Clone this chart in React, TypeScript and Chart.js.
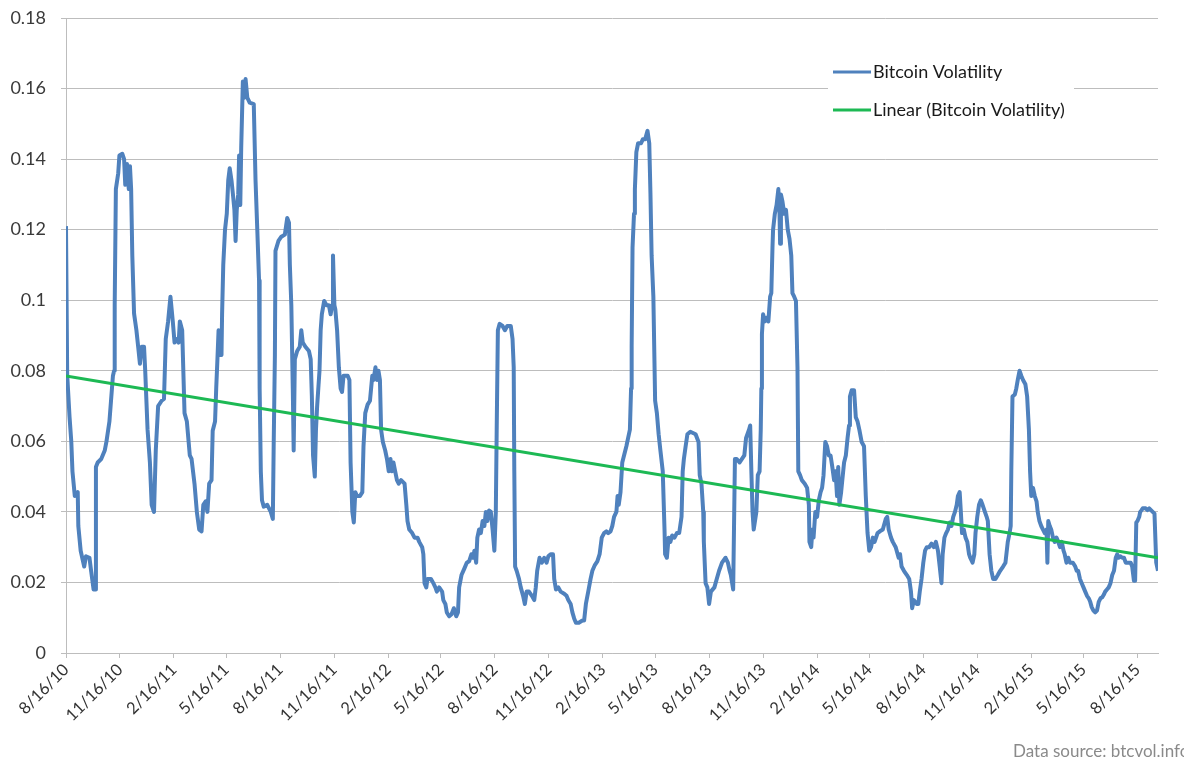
import React, { useEffect, useRef } from "react";
import { Chart, registerables } from "chart.js";

Chart.register(...registerables);

// x values are days since 8/16/10
const tickDays = [0, 92, 184, 273, 365, 457, 549, 639, 731, 823, 915, 1004, 1096, 1188, 1280, 1369, 1461, 1553, 1645, 1734, 1826];
const tickLabels = [
  "8/16/10", "11/16/10", "2/16/11", "5/16/11", "8/16/11", "11/16/11", "2/16/12", "5/16/12",
  "8/16/12", "11/16/12", "2/16/13", "5/16/13", "8/16/13", "11/16/13", "2/16/14", "5/16/14",
  "8/16/14", "11/16/14", "2/16/15", "5/16/15", "8/16/15",
];
const yTicks = [0, 0.02, 0.04, 0.06, 0.08, 0.1, 0.12, 0.14, 0.16, 0.18];
const lastDay = 1861;

const vol2010: [number, number][] = [
  [0, 0.121], [2, 0.079], [6, 0.067], [9, 0.06], [11, 0.0515], [15, 0.0445], [20, 0.0456], [21, 0.036], [25, 0.029], [31, 0.0245],
  [34, 0.0274], [40, 0.027], [43, 0.023], [47, 0.018], [50, 0.018], [51, 0.0527], [54, 0.054], [60, 0.055], [66, 0.0574], [69, 0.06],
  [74, 0.0656], [80, 0.0786], [82, 0.08], [83, 0.0986], [85, 0.1315], [89, 0.136], [91, 0.141], [96, 0.1415], [99, 0.14], [101, 0.1327],
  [104, 0.1386], [107, 0.1315], [109, 0.138], [111, 0.1315], [113, 0.1127], [116, 0.0962], [120, 0.0915], [123, 0.0868], [126, 0.082], [129, 0.0868],
  [133, 0.0868], [135, 0.08], [139, 0.0633], [143, 0.054], [146, 0.042], [149, 0.0404], [150, 0.04], [153, 0.0574], [157, 0.07], [163, 0.0715],
  [167, 0.072], [170, 0.089], [174, 0.094], [178, 0.101], [182, 0.094], [185, 0.088], [189, 0.089], [192, 0.088], [194, 0.094], [198, 0.0915],
  [202, 0.068], [206, 0.0656], [211, 0.056], [214, 0.055], [219, 0.048], [223, 0.04], [227, 0.035], [231, 0.0345], [234, 0.042],
];

const vol2011: [number, number][] = [
  [238, 0.043], [241, 0.04], [244, 0.048], [248, 0.049], [250, 0.063], [254, 0.0656], [256, 0.075], [258, 0.083], [260, 0.0915], [262, 0.0845],
  [265, 0.0845], [266, 0.096], [268, 0.11], [271, 0.12], [274, 0.1245], [276.5, 0.134], [279, 0.1374], [282, 0.134], [284.5, 0.13], [287, 0.1256],
  [289, 0.1168], [291, 0.1256], [293.5, 0.13], [295, 0.141], [297, 0.127], [298.6, 0.1433], [301.4, 0.162], [304, 0.1574], [306, 0.1627], [309, 0.1574],
  [313, 0.156], [320, 0.1556], [323, 0.134], [326, 0.12], [329, 0.1056], [330, 0.075], [332, 0.0515], [334, 0.0433], [337, 0.0415], [343, 0.042],
  [349, 0.04], [352.5, 0.038], [354, 0.0598], [356, 0.0845], [357, 0.114], [362, 0.1168], [367, 0.118], [373, 0.1186], [377, 0.1233], [380, 0.122],
  [381.5, 0.11], [384, 0.0986], [386.5, 0.075], [388, 0.0574], [390, 0.0833], [394, 0.0856], [398.4, 0.0868], [401, 0.0915], [403.5, 0.088], [408, 0.0868],
  [414, 0.0856], [417, 0.0833], [419, 0.0727], [421, 0.056], [424, 0.05], [426, 0.0633], [428, 0.07], [430, 0.075], [432, 0.08], [434, 0.0915],
  [436, 0.096], [440, 0.0998], [444, 0.0986], [448, 0.0986], [451, 0.096], [453.4, 0.0986], [455, 0.1127], [457.4, 0.0986], [459, 0.0974], [462, 0.0915],
  [465, 0.081], [468, 0.075], [470.4, 0.074], [473, 0.0786], [476, 0.0786],
];

const vol2012a: [number, number][] = [
  [480, 0.0786], [483, 0.0774], [485, 0.054], [488, 0.04], [490.5, 0.037], [493, 0.0456], [496, 0.0445], [501, 0.0445], [505, 0.0456], [507, 0.0586],
  [510, 0.068], [514, 0.0704], [518, 0.0715], [522, 0.0786], [524, 0.0774], [527.4, 0.081], [530, 0.0774], [532.5, 0.08], [535, 0.0774], [537, 0.0633],
  [540, 0.0598], [544, 0.0574], [547, 0.055], [550, 0.0515], [553, 0.055], [555, 0.0515], [558, 0.054], [561, 0.0515], [564, 0.049], [567, 0.048],
  [571, 0.049], [577, 0.048], [580, 0.042], [582, 0.0374], [585, 0.035], [590, 0.034], [594, 0.0327], [599, 0.0327], [602, 0.0315], [607, 0.03],
  [609, 0.028], [611, 0.0198], [614, 0.0186], [616, 0.021], [622, 0.021], [626, 0.0198], [629.5, 0.0186], [632, 0.0174], [636, 0.0186], [641, 0.0174],
  [643, 0.015], [646.5, 0.0139], [649, 0.0115], [653, 0.0104], [657, 0.011], [661, 0.0127], [665, 0.0104], [668, 0.0115], [670, 0.0186], [674, 0.0221],
  [679, 0.024], [683, 0.0256], [687, 0.026], [691, 0.028], [694, 0.027], [696, 0.029], [699, 0.0256],
];

const vol2012b: [number, number][] = [
  [701, 0.0327], [704, 0.035], [707, 0.034], [710, 0.0374], [713, 0.036], [715.5, 0.04], [718, 0.0374], [721, 0.0404], [724, 0.04], [727, 0.035],
  [730, 0.029], [732.5, 0.04], [734, 0.0633], [736, 0.0915], [739, 0.0933], [744, 0.0927], [748, 0.0915], [752, 0.0927], [758, 0.0927], [761, 0.089],
  [763, 0.081], [764, 0.0515], [765.4, 0.0245], [768, 0.0233], [772, 0.021], [775, 0.0186], [779, 0.0162], [782, 0.0139], [785, 0.0174], [789, 0.0174],
  [794, 0.0162], [798, 0.015], [800.6, 0.0186], [803, 0.0233], [807, 0.027], [811, 0.0256], [815, 0.027], [819, 0.0256], [822, 0.0274], [826, 0.028],
  [830, 0.028], [832, 0.021], [835, 0.018], [839, 0.0186], [843, 0.0174], [849, 0.0168], [853, 0.0162], [856, 0.015], [860, 0.0139], [863, 0.0115],
  [866, 0.0098], [869, 0.0086], [874, 0.0086], [880, 0.0092], [883, 0.0092], [886, 0.0139], [890, 0.0174], [894, 0.021], [897, 0.0233], [901.5, 0.025],
  [905.5, 0.026], [909.4, 0.028], [913, 0.0327], [917, 0.034], [921, 0.0345], [924, 0.034], [928, 0.0345], [931, 0.036], [934, 0.0386],
];

const vol2013a: [number, number][] = [
  [938, 0.04], [940, 0.0445], [942, 0.042], [945, 0.0456], [948, 0.054], [951, 0.056], [955, 0.0586], [958, 0.061], [961, 0.0633], [963, 0.075],
  [964, 0.0868], [965.5, 0.115], [968, 0.1245], [969.5, 0.1315], [972, 0.142], [975, 0.1445], [980, 0.1445], [983, 0.1456], [987, 0.1456], [991, 0.148],
  [994, 0.1445], [996, 0.1304], [998, 0.1127], [1001, 0.101], [1004, 0.0715], [1007, 0.068], [1010, 0.062], [1013, 0.0574], [1017, 0.0515], [1020, 0.035],
  [1021, 0.028], [1024, 0.027], [1027, 0.0327], [1030, 0.0315], [1033, 0.0333], [1037, 0.0327], [1041, 0.034], [1045, 0.034], [1049, 0.0386], [1051, 0.0515],
  [1053, 0.055], [1056, 0.0586], [1059, 0.062], [1064, 0.0627], [1073, 0.062], [1078, 0.0598], [1080, 0.0504], [1083, 0.048], [1086, 0.04], [1087, 0.0315],
  [1090, 0.0198], [1093, 0.0186], [1096, 0.0139], [1099, 0.0174], [1105, 0.0186], [1109, 0.021], [1113, 0.0233], [1118, 0.0256], [1124, 0.027], [1128, 0.0256],
  [1131, 0.0233], [1133, 0.0221], [1137, 0.018], [1140, 0.055], [1143, 0.055], [1148, 0.054], [1152, 0.055], [1156, 0.056], [1159, 0.061], [1164, 0.0633],
  [1166, 0.0645], [1168, 0.0515], [1170, 0.04], [1172, 0.035],
];

const vol2013b: [number, number][] = [
  [1176.5, 0.04], [1179, 0.0504], [1182, 0.0515], [1184, 0.0633], [1185, 0.075], [1186, 0.0904], [1188, 0.096], [1191, 0.094], [1194, 0.095], [1197, 0.094],
  [1200, 0.101], [1202, 0.102], [1204, 0.115], [1205, 0.12], [1208, 0.1245], [1211, 0.127], [1214, 0.1315], [1216, 0.1245], [1217, 0.116], [1218.4, 0.13],
  [1221, 0.128], [1224, 0.1245], [1227, 0.1256], [1230, 0.12], [1233, 0.1174], [1236, 0.1127], [1238, 0.102], [1241, 0.101], [1244, 0.0998], [1246.6, 0.081],
  [1248, 0.0515], [1251, 0.0504], [1254, 0.049], [1259, 0.048], [1263, 0.0468], [1266, 0.042], [1267, 0.0315], [1270, 0.03], [1272, 0.035], [1274, 0.0327],
  [1277, 0.04], [1280, 0.0386], [1283, 0.0433], [1286, 0.0456], [1288.5, 0.0468], [1291, 0.0504], [1294, 0.0598], [1297, 0.0586], [1300, 0.056], [1303, 0.056],
  [1306, 0.0527], [1309, 0.049], [1311.5, 0.0515], [1314, 0.0445], [1316, 0.0527], [1318, 0.042], [1321, 0.0456], [1323, 0.049], [1326, 0.054], [1329, 0.056],
  [1332, 0.061], [1334.5, 0.0645], [1336, 0.0727], [1339, 0.0745], [1343, 0.0745], [1346, 0.0668], [1349, 0.0656], [1352, 0.0633], [1356, 0.0598], [1360, 0.0586],
  [1363, 0.0445], [1366, 0.034], [1369, 0.029], [1372, 0.03], [1375, 0.0327], [1378, 0.0315], [1380.5, 0.0327], [1383, 0.034], [1387, 0.0345], [1392, 0.035],
  [1397, 0.038], [1399.5, 0.0386], [1402, 0.035], [1406, 0.0327], [1409, 0.0315], [1414, 0.03],
];

const vol2014: [number, number][] = [
  [1419, 0.027], [1421.4, 0.028], [1424, 0.0245], [1428, 0.0233], [1433, 0.0221], [1437, 0.021], [1440, 0.0174], [1442, 0.0127], [1445, 0.015], [1450, 0.0139],
  [1452.5, 0.0139], [1455, 0.0174], [1458, 0.021], [1461, 0.0256], [1464, 0.029], [1467, 0.03], [1471, 0.03], [1475, 0.031], [1479, 0.03], [1482.5, 0.0315],
  [1486, 0.029], [1489, 0.0245], [1492, 0.0198], [1494, 0.028], [1497, 0.0327], [1500, 0.034], [1503, 0.035], [1506, 0.037], [1509, 0.036], [1512, 0.0386],
  [1515, 0.04], [1518, 0.042], [1520, 0.0445], [1523, 0.0456], [1525, 0.04], [1527, 0.034], [1530, 0.035], [1533, 0.0327], [1536, 0.0315], [1539, 0.028],
  [1541, 0.027], [1545, 0.0256], [1548, 0.028], [1550, 0.034], [1553, 0.0386], [1556, 0.042], [1559, 0.0433], [1562, 0.042], [1566, 0.04], [1569, 0.0386],
  [1571, 0.0374], [1574, 0.028], [1577, 0.0233], [1580, 0.021], [1584, 0.021], [1588, 0.0221], [1592, 0.0233], [1597, 0.0245], [1601, 0.0256], [1605, 0.0315],
  [1608, 0.034], [1610, 0.036], [1611, 0.0515], [1613, 0.0727], [1617, 0.0733], [1619.5, 0.075], [1622, 0.0774], [1625, 0.08], [1628, 0.0786], [1631, 0.0774],
  [1635, 0.0762], [1638, 0.0727], [1641, 0.0633], [1643, 0.0515], [1645, 0.0445], [1648, 0.0468], [1651, 0.0445],
];

const vol2015: [number, number][] = [
  [1654, 0.043], [1656, 0.04], [1659, 0.0374], [1662, 0.036], [1665, 0.035], [1668, 0.034], [1671, 0.035], [1672.5, 0.0256], [1674, 0.0374], [1676.5, 0.036],
  [1679, 0.035], [1682, 0.0327], [1685, 0.0315], [1688, 0.0327], [1691, 0.0315], [1694, 0.03], [1697, 0.0315], [1700, 0.029], [1702, 0.028], [1705, 0.0256],
  [1708, 0.027], [1711, 0.0256], [1716, 0.0256], [1720, 0.0245], [1722.5, 0.0233], [1725, 0.0233], [1728, 0.021], [1731, 0.0198], [1734, 0.0186], [1737, 0.0174],
  [1740, 0.0162], [1743, 0.0155], [1745.5, 0.0145], [1748, 0.013], [1751, 0.012], [1754, 0.0115], [1757, 0.012], [1760, 0.0145], [1763, 0.0155], [1766, 0.0158],
  [1768.5, 0.0165], [1771, 0.0174], [1774, 0.018], [1777, 0.0186], [1780, 0.0198], [1783, 0.0221], [1786, 0.0233], [1789, 0.027], [1791.5, 0.028], [1794, 0.027],
  [1797, 0.0274], [1800, 0.027], [1803, 0.027], [1806, 0.0256], [1809, 0.0256], [1812, 0.0256], [1814.5, 0.0256], [1817, 0.0245], [1820, 0.0205], [1822, 0.0205],
  [1824, 0.037], [1826, 0.0374], [1829, 0.0386], [1830.6, 0.04], [1833, 0.0405], [1835, 0.041], [1837.5, 0.041], [1840, 0.041], [1843, 0.0405], [1846, 0.041],
  [1849, 0.0405], [1852, 0.04], [1855, 0.0395], [1858, 0.0256], [1861, 0.0233],
];

const trendDays = [0, lastDay];
const trendValues = [0.0785, 0.027];

const seriesName = "Bitcoin Volatility";
const trendName = "Linear (Bitcoin Volatility)";
const sourceText = "Data source: btcvol.info";

const FONT = "Lato, 'Open Sans', sans-serif";
const BLUE = "#4F81BD";
const GREEN = "#1DB954";

const legendPlugin = {
  id: "insetLegend",
  beforeDatasetsDraw(chart: any) {
    const { ctx, chartArea } = chart;
    const x0 = chartArea.right - 330;
    const y0 = chartArea.top + 27;
    ctx.save();
    ctx.fillStyle = "#ffffff";
    ctx.fillRect(x0, y0, 246, 92);
    const items = [
      { color: BLUE, text: seriesName, y: y0 + 27 },
      { color: GREEN, text: trendName, y: y0 + 65 },
    ];
    ctx.font = `18px ${FONT}`;
    ctx.textBaseline = "middle";
    ctx.textAlign = "left";
    for (const it of items) {
      ctx.strokeStyle = it.color;
      ctx.lineWidth = 3;
      ctx.beginPath();
      ctx.moveTo(x0 + 5, it.y);
      ctx.lineTo(x0 + 43, it.y);
      ctx.stroke();
      ctx.fillStyle = "#1a1a1a";
      ctx.fillText(it.text, x0 + 45, it.y);
    }
    ctx.restore();
  },
  afterDraw(chart: any) {
    const { ctx } = chart;
    ctx.save();
    ctx.font = `17px ${FONT}`;
    ctx.fillStyle = "#8a8a8a";
    ctx.textAlign = "left";
    ctx.textBaseline = "middle";
    ctx.fillText(sourceText, chart.width - 171, chart.height - 9);
    ctx.restore();
  },
};

export default function App() {
  const ref = useRef<HTMLCanvasElement | null>(null);
  useEffect(() => {
    if (!ref.current) return;
    const vol = [...vol2010, ...vol2011, ...vol2012a, ...vol2012b, ...vol2013a, ...vol2013b, ...vol2014, ...vol2015];
    const chart = new Chart(ref.current, {
      type: "line",
      data: {
        datasets: [
          {
            label: seriesName,
            data: vol.map(([d, v]) => ({ x: d, y: v })),
            borderColor: BLUE,
            borderWidth: 4,
            pointRadius: 0,
            tension: 0,
            borderJoinStyle: "round",
            order: 2,
          },
          {
            label: trendName,
            data: trendDays.map((d, i) => ({ x: d, y: trendValues[i] })),
            borderColor: GREEN,
            borderWidth: 3,
            pointRadius: 0,
            tension: 0,
            order: 1,
          },
        ],
      },
      options: {
        animation: false,
        responsive: false,
        layout: { padding: { left: 0, right: 26, top: 18, bottom: 0 } },
        plugins: { legend: { display: false }, tooltip: { enabled: false } },
        scales: {
          x: {
            type: "linear",
            min: 0,
            max: lastDay,
            afterBuildTicks: (scale: any) => {
              scale.ticks = tickDays.map((v) => ({ value: v }));
            },
            afterFit: (scale: any) => {
              scale.height = 108;
              scale.paddingLeft = 0;
              scale.paddingRight = 0;
            },
            ticks: {
              autoSkip: false,
              minRotation: 45,
              maxRotation: 45,
              padding: 2,
              color: "#333333",
              font: { family: FONT, size: 16.5 },
              callback: (v: any) => tickLabels[tickDays.indexOf(Number(v))] ?? "",
            },
            grid: { drawOnChartArea: false, drawTicks: true, tickLength: 5, color: "#bdbdbd" },
            border: { color: "#bdbdbd", width: 1 },
          },
          y: {
            min: 0,
            max: 0.18,
            afterBuildTicks: (scale: any) => {
              scale.ticks = yTicks.map((v) => ({ value: v }));
            },
            afterFit: (scale: any) => {
              scale.width = 66;
              scale.paddingTop = 0;
              scale.paddingBottom = 0;
            },
            ticks: {
              padding: 15,
              color: "#3a3a3a",
              font: { family: FONT, size: 18 },
              callback: (v: any) => String(Number(Number(v).toFixed(2))),
            },
            grid: { color: "#bdbdbd", tickLength: 5, lineWidth: 1 },
            border: { color: "#bdbdbd", width: 1 },
          },
        },
      },
      plugins: [legendPlugin],
    });
    return () => chart.destroy();
  }, []);
  return (
    <div style={{ position: "absolute", left: 0, top: 0, width: 1184, height: 761, background: "#fff" }}>
      <canvas ref={ref} width={1184} height={761} style={{ display: "block" }} />
    </div>
  );
}
